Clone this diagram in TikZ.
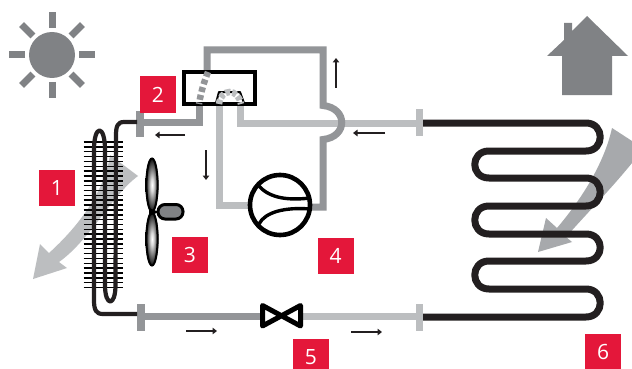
\documentclass[tikz,border=0pt]{standalone}
\usepackage{fontspec}
\setmainfont{Open Sans}
\usetikzlibrary{arrows.meta}
\definecolor{redbox}{HTML}{E4173A}
\definecolor{icongrey}{HTML}{808285}
\definecolor{darkpipe}{HTML}{939598}
\definecolor{lightpipe}{HTML}{BCBEC0}
\definecolor{airleft}{HTML}{BCBEC0}
\definecolor{airright}{HTML}{A7A9AC}
\definecolor{coil}{HTML}{231F20}
\pgfdeclareradialshading{bladeshade}{\pgfpoint{0bp}{0bp}}{color(0bp)=(white); color(6bp)=(white!85!black); color(26bp)=(black); color(50bp)=(black)}
\tikzset{
  numbox/.style={fill=redbox,text=white,minimum width=36pt,minimum height=36pt,inner sep=0pt,font=\fontsize{21}{21}\selectfont},
  darkline/.style={draw=darkpipe,line width=7pt,line join=miter},
  lightline/.style={draw=lightpipe,line width=7pt,line join=miter},
  coilline/.style={draw=coil,line width=4.2pt,line join=round},
  coilthick/.style={draw=coil,line width=7pt,line join=round},
  flow/.style={draw=coil,line width=1.2pt,-{Triangle[length=4.5pt,width=6.5pt]}},
  ray/.style={draw=icongrey,line width=7pt},
  fin/.style={draw=black,line width=1.5pt}
}
\begin{document}
\begin{tikzpicture}[x=1pt,y=-1pt]
\useasboundingbox (0,0) rectangle (632,369);
\clip (0,0) rectangle (632,369);
\fill[white] (0,0) rectangle (632,369);
% sun
\fill[icongrey] (52,55) circle (23pt);
\foreach \a in {0,45,...,315}{
  \draw[ray] (52,55) ++(\a:27pt) -- ++(\a:16pt);
}
% house
\fill[icongrey] (587,16) -- (628,56) -- (612,56) -- (612,95) -- (562,95) -- (562,56) -- (547,56) -- (564,40) -- (564,23) -- (572,23) -- (572,31) -- cycle;
% air arrows
\fill[airleft] (110,155) -- (138,176) .. controls (112,195) and (90,240) .. (59,262) -- (67,268) -- (33,279) -- (40,244) -- (49,253) .. controls (80,225) and (105,190) .. cycle;
\fill[airright] (612,128) -- (632,141) -- (632,163) .. controls (610,190) and (590,210) .. (566,237) -- (572,242) -- (538,252) -- (546,218) -- (557,228) .. controls (585,195) and (605,160) .. cycle;
% pipes
\draw[lightline] (219,104) -- (219,205) -- (252,205);
\draw[lightline] (240,104) -- (240,123) -- (416,123);
\draw[darkline] (207,72) -- (207,50) -- (323,50) -- (323,105.5) .. controls (348,108) and (348,137) .. (323,139.5) -- (323,207) -- (308,207);
\draw[darkline] (199,104) -- (199,122) -- (140,122);
\draw[darkline] (141,316) -- (262,316);
\draw[lightline] (300,316) -- (419,316);
% flanges
\fill[darkpipe] (136,111) rectangle (144,137);
\fill[darkpipe] (137,304) rectangle (145,331);
\fill[lightpipe] (415.5,109) rectangle (423,136);
\fill[lightpipe] (415.5,304) rectangle (423,331);
% reversing valve
\draw[draw=black,line width=4pt] (184,72) rectangle (255,104);
\draw[black,line width=2pt,line join=round] (216,103) -- (219,92) -- (240,92) -- (244,103);
\draw[lightpipe,line width=6.5pt,dash pattern=on 4.5pt off 2.2pt] (219,104) .. controls (221,88) and (238,88) .. (241,104);
\draw[darkpipe,line width=6.5pt,dash pattern=on 5pt off 3pt] (208,72) .. controls (204,82) and (201,92) .. (199,104);
% compressor
\draw[black,line width=4.6pt,fill=white] (280,205) circle (30pt);
\draw[black,line width=3.4pt] (258,185) .. controls (268,197) and (285,201) .. (310,198);
\draw[black,line width=3.4pt] (259,224) .. controls (265,212) and (285,207) .. (310,209);
% expansion valve
\draw[black,line width=5pt,line join=round,fill=white] (262.5,305.5) -- (300.5,326) -- (300.5,305.5) -- (262.5,326) -- cycle;
% condenser fins
\foreach \y in {142,146.85,...,288}{
  \draw[fin] (83.5,\y) -- (123,\y);
}
% condenser coil
\draw[coilline] (137,122) -- (124,122) .. controls (117,122) and (116,127) .. (116,136) -- (115.5,285)
  .. controls (115.5,307) and (105,307) .. (105,285) -- (105,150)
  .. controls (105,124) and (94,124) .. (94,150) -- (94,300)
  .. controls (94,310) and (96,314) .. (103,314) -- (137,314);
% fan
\shade[shading=bladeshade] (152,185) ellipse (6.5pt and 27pt);
\shade[shading=bladeshade] (152,239) ellipse (6.5pt and 27pt);
\draw[black,line width=2pt] (152,185) ellipse (5.6pt and 26.5pt);
\draw[black,line width=2pt] (152,239) ellipse (5.6pt and 26.5pt);
\draw[black,line width=3pt,fill=icongrey,rounded corners=7pt] (158,204.5) rectangle (183,219);
\fill[black] (149,208) -- (159,212) -- (149,216) -- cycle;
% radiator coil
\draw[coilthick] (423,123) -- (586,123) .. controls (605,123) and (605,151) .. (586,151)
  -- (489,151) .. controls (470,151) and (470,178) .. (489,178)
  -- (586,178) .. controls (605,178) and (605,206) .. (586,206)
  -- (489,206) .. controls (470,206) and (470,234) .. (489,234)
  -- (586,234) .. controls (605,234) and (605,261) .. (586,261)
  -- (489,261) .. controls (470,261) and (470,289) .. (489,289)
  -- (586,289) .. controls (605,289) and (605,317) .. (586,317)
  -- (423,317);
% flow arrows
\coordinate (f1a) at (185,135); \coordinate (f1b) at (155,135);
\coordinate (f2a) at (206,150); \coordinate (f2b) at (206,180);
\coordinate (f3a) at (336,88);  \coordinate (f3b) at (336,58);
\coordinate (f4a) at (385,133); \coordinate (f4b) at (353,133);
\coordinate (f5a) at (186,331); \coordinate (f5b) at (217,331);
\coordinate (f6a) at (351,332); \coordinate (f6b) at (382,332);
\draw[flow] (f1a) -- (f1b);
\draw[flow] (f2a) -- (f2b);
\draw[flow] (f3a) -- (f3b);
\draw[flow] (f4a) -- (f4b);
\draw[flow] (f5a) -- (f5b);
\draw[flow] (f6a) -- (f6b);
% labels
\node[numbox] (n1) at (57,188) {1};
\node[numbox] (n2) at (158,94.5) {2};
\node[numbox] (n3) at (190,254.5) {3};
\node[numbox] (n4) at (335.5,255.5) {4};
\node[numbox] (n5) at (311,357) {5};
\node[numbox] (n6) at (603,352) {6};
\end{tikzpicture}
\end{document}
